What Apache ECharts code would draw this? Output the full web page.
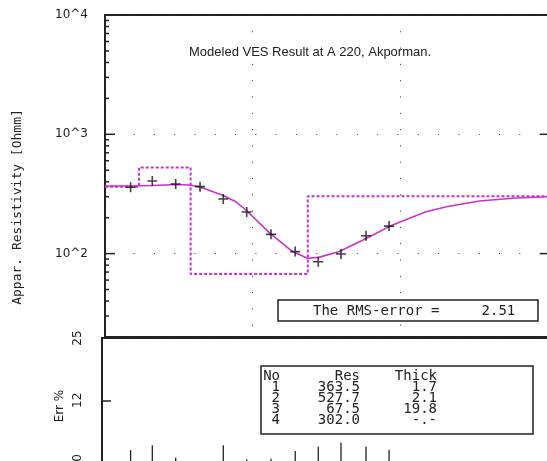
<!DOCTYPE html>
<html>
<head>
<meta charset="utf-8">
<script src="https://cdn.jsdelivr.net/npm/echarts@6/dist/echarts.min.js"></script>
<style>
html, body { margin: 0; padding: 0; background: #fff; }
#chart { width: 547px; height: 461px; }
</style>
</head>
<body>
<div id="chart"></div>
<script>
// 测点 AB/2 与视电阻率
var spacing = [1.49, 2.09, 3.01, 4.4, 6.32, 9.11, 13.3, 19.4, 27.8, 39.6, 58.5, 83.8]
var apparentRes = [360, 406, 383, 364, 287, 223, 145, 104, 85.5, 99.3, 141, 170]
// 各测点误差 %
var errPct = [1.6, 2.6, 0.05, -0.7, 2.6, -0.3, -0.2, 1.4, 2.3, 3.2, 2.3, 1.7]

// 模型曲线
var curveX = [1, 1.5, 2.1, 3, 3.7, 4.3, 6.2, 7.7, 9, 13, 18.6, 23.5, 28, 38.6, 58.6, 88.5, 149, 205, 343, 573, 1030]
var curveY = [368.6, 369, 372, 380, 376, 365, 310, 272, 232, 149, 104, 91.4, 93, 104, 134, 174, 224, 247, 276, 291, 300]

// 分层模型
var layerNo = ['1', '2', '3', '4']
var layerRes = ['363.5', '527.7', '67.5', '302.0']
var layerThick = ['1.7', '2.1', '19.8', '-.-']
var rmsError = '2.51'

// 刻度
var yMajorTicks = [100, 1000]
var yMinorTicks = [30, 40, 50, 60, 70, 80, 90, 200, 300, 400, 500, 600, 700, 800, 900,
	2000, 3000, 4000, 5000, 6000, 7000, 8000, 9000]
var errTickLabels = [0, 12, 25]
var errTicks = [12]

var X_MIN = 1, X_MAX = 1030
var X2_MIN = 0.954
var ERR_MIN = -4, ERR_MAX = 25
var INK = '#222'
var MAGENTA = '#c832c8'

// 阶梯模型线
var stepData = []
var depth = 0
var prevX = X_MIN
for (let i = 0; i < layerRes.length; i++) {
	let r = parseFloat(layerRes[i])
	let t = parseFloat(layerThick[i])
	let nextX = isNaN(t) ? X_MAX : depth + t
	stepData.push([prevX, r], [nextX, r])
	depth = nextX
	prevX = nextX
}

var pointData = spacing.map((x, i) => [x, apparentRes[i]])
var curveData = curveX.map((x, i) => [x, curveY[i]])
var errData = spacing.map((x, i) => [x, errPct[i]])
var tickData = yMinorTicks.map(v => [X_MIN, v, 4]).concat(yMajorTicks.map(v => [X_MIN, v, 10]))
var rightTickData = yMajorTicks.map(v => [X_MAX, v, -10])

function tickItem(params, api) {
	const p = api.coord([api.value(0), api.value(1)])
	const len = api.value(2)
	return {
		type: 'line',
		shape: { x1: p[0], y1: p[1], x2: p[0] + len, y2: p[1] },
		style: { stroke: INK, lineWidth: 1.5 }
	}
}

function errItem(params, api) {
	const top = api.coord([api.value(0), api.value(1)])
	const base = api.coord([api.value(0), ERR_MIN])
	return {
		type: 'line',
		shape: { x1: top[0], y1: top[1], x2: base[0], y2: base[1] },
		style: { stroke: INK, lineWidth: 1.3 }
	}
}

var monoFont = '14px "DejaVu Sans Mono"'

var chart = echarts.init(document.getElementById('chart'))
var option = {
	animation: false,
	backgroundColor: '#fff',
	title: {
		text: 'Modeled VES Result at A 220, Akporman.',
		left: 184,
		top: 41,
		textStyle: { fontFamily: 'Liberation Sans', fontSize: 13, fontWeight: 'normal', color: INK }
	},
	grid: [
		{ left: 105, top: 15, right: -3, height: 322, outerBoundsMode: 'none', show: true, borderColor: INK, borderWidth: 2 },
		{ left: 102, top: 338, right: -3, bottom: -16, outerBoundsMode: 'none', show: true, borderColor: INK, borderWidth: 2 }
	],
	xAxis: [
		{
			type: 'log', gridIndex: 0, min: X_MIN, max: X_MAX,
			axisLine: { show: false }, axisTick: { show: false }, axisLabel: { show: false },
			splitLine: { show: true, lineStyle: { color: '#333', width: 1, type: [1, 15.3] } }
		},
		{
			type: 'log', gridIndex: 1, min: X2_MIN, max: X_MAX,
			axisLine: { show: false }, axisTick: { show: false }, axisLabel: { show: false },
			splitLine: { show: false }
		}
	],
	yAxis: [
		{
			type: 'log', gridIndex: 0, min: 20, max: 10000,
			axisLine: { show: false }, axisTick: { show: false },
			axisLabel: {
				margin: 17, color: INK, fontFamily: 'DejaVu Sans', fontSize: 12,
				showMinLabel: false,
				formatter: v => {
					const e = Math.round(Math.log10(v))
					return Math.abs(Math.pow(10, e) - v) < 1e-6 ? '10^' + e : ''
				}
			},
			splitLine: { show: true, lineStyle: { color: '#333', width: 1, type: [1, 19.3], dashOffset: 12 } }
		},
		{
			type: 'value', gridIndex: 1, min: ERR_MIN, max: ERR_MAX,
			axisLine: { show: false },
			axisTick: { show: true, inside: true, length: 9, customValues: errTicks, lineStyle: { color: INK, width: 1.5 } },
			axisLabel: { customValues: errTickLabels, rotate: 90, margin: 18, color: INK, fontFamily: 'DejaVu Sans', fontSize: 12 },
			splitLine: { show: false }
		}
	],
	series: [
		{
			type: 'line', xAxisIndex: 0, yAxisIndex: 0, data: stepData,
			symbol: 'none', lineStyle: { color: MAGENTA, width: 2, type: [3, 2] }, z: 2
		},
		{
			type: 'line', xAxisIndex: 0, yAxisIndex: 0, data: curveData,
			symbol: 'none', lineStyle: { color: MAGENTA, width: 1.6 }, z: 3
		},
		{
			type: 'scatter', xAxisIndex: 0, yAxisIndex: 0, data: pointData,
			symbol: 'path://M0,4.2H10V5.8H0Z M4.2,0H5.8V10H4.2Z', symbolSize: 10,
			itemStyle: { color: '#111' }, z: 4
		},
		{
			type: 'custom', xAxisIndex: 0, yAxisIndex: 0, data: tickData.concat(rightTickData),
			renderItem: tickItem, clip: false, z: 5
		},
		{
			type: 'custom', xAxisIndex: 1, yAxisIndex: 1, data: errData,
			renderItem: errItem, clip: true, z: 5
		}
	],
	graphic: [
		{
			type: 'text', x: 18, y: 207, rotation: Math.PI / 2,
			style: { text: 'Appar. Resistivity [Ohmm]', font: '13px "DejaVu Sans Mono"', fill: INK, textAlign: 'center', textVerticalAlign: 'middle' }
		},
		{
			type: 'text', x: 60, y: 406, rotation: Math.PI / 2,
			style: { text: 'Err %', font: '12px "DejaVu Sans"', fill: INK, textAlign: 'center', textVerticalAlign: 'middle' }
		},
		{
			type: 'rect', shape: { x: 278, y: 300, width: 260, height: 21 }, z: 10,
			style: { fill: '#fff', stroke: INK, lineWidth: 1.5 }
		},
		{
			type: 'text', x: 313, y: 311, z: 11,
			style: { text: 'The RMS-error =     ' + rmsError, font: monoFont, fill: INK, textVerticalAlign: 'middle' }
		},
		{
			type: 'rect', shape: { x: 261, y: 366, width: 272, height: 68 }, z: 10,
			style: { fill: '#fff', stroke: INK, lineWidth: 1.5 }
		},
		{
			type: 'text', x: 280, y: 371, z: 11,
			style: { text: ['No'].concat(layerNo).join('\n'), font: monoFont, lineHeight: 11, fill: INK, textAlign: 'right', textVerticalAlign: 'top' }
		},
		{
			type: 'text', x: 360, y: 371, z: 11,
			style: { text: ['Res'].concat(layerRes).join('\n'), font: monoFont, lineHeight: 11, fill: INK, textAlign: 'right', textVerticalAlign: 'top' }
		},
		{
			type: 'text', x: 437, y: 371, z: 11,
			style: { text: ['Thick'].concat(layerThick).join('\n'), font: monoFont, lineHeight: 11, fill: INK, textAlign: 'right', textVerticalAlign: 'top' }
		}
	]
}
chart.setOption(option)
</script>
</body>
</html>
